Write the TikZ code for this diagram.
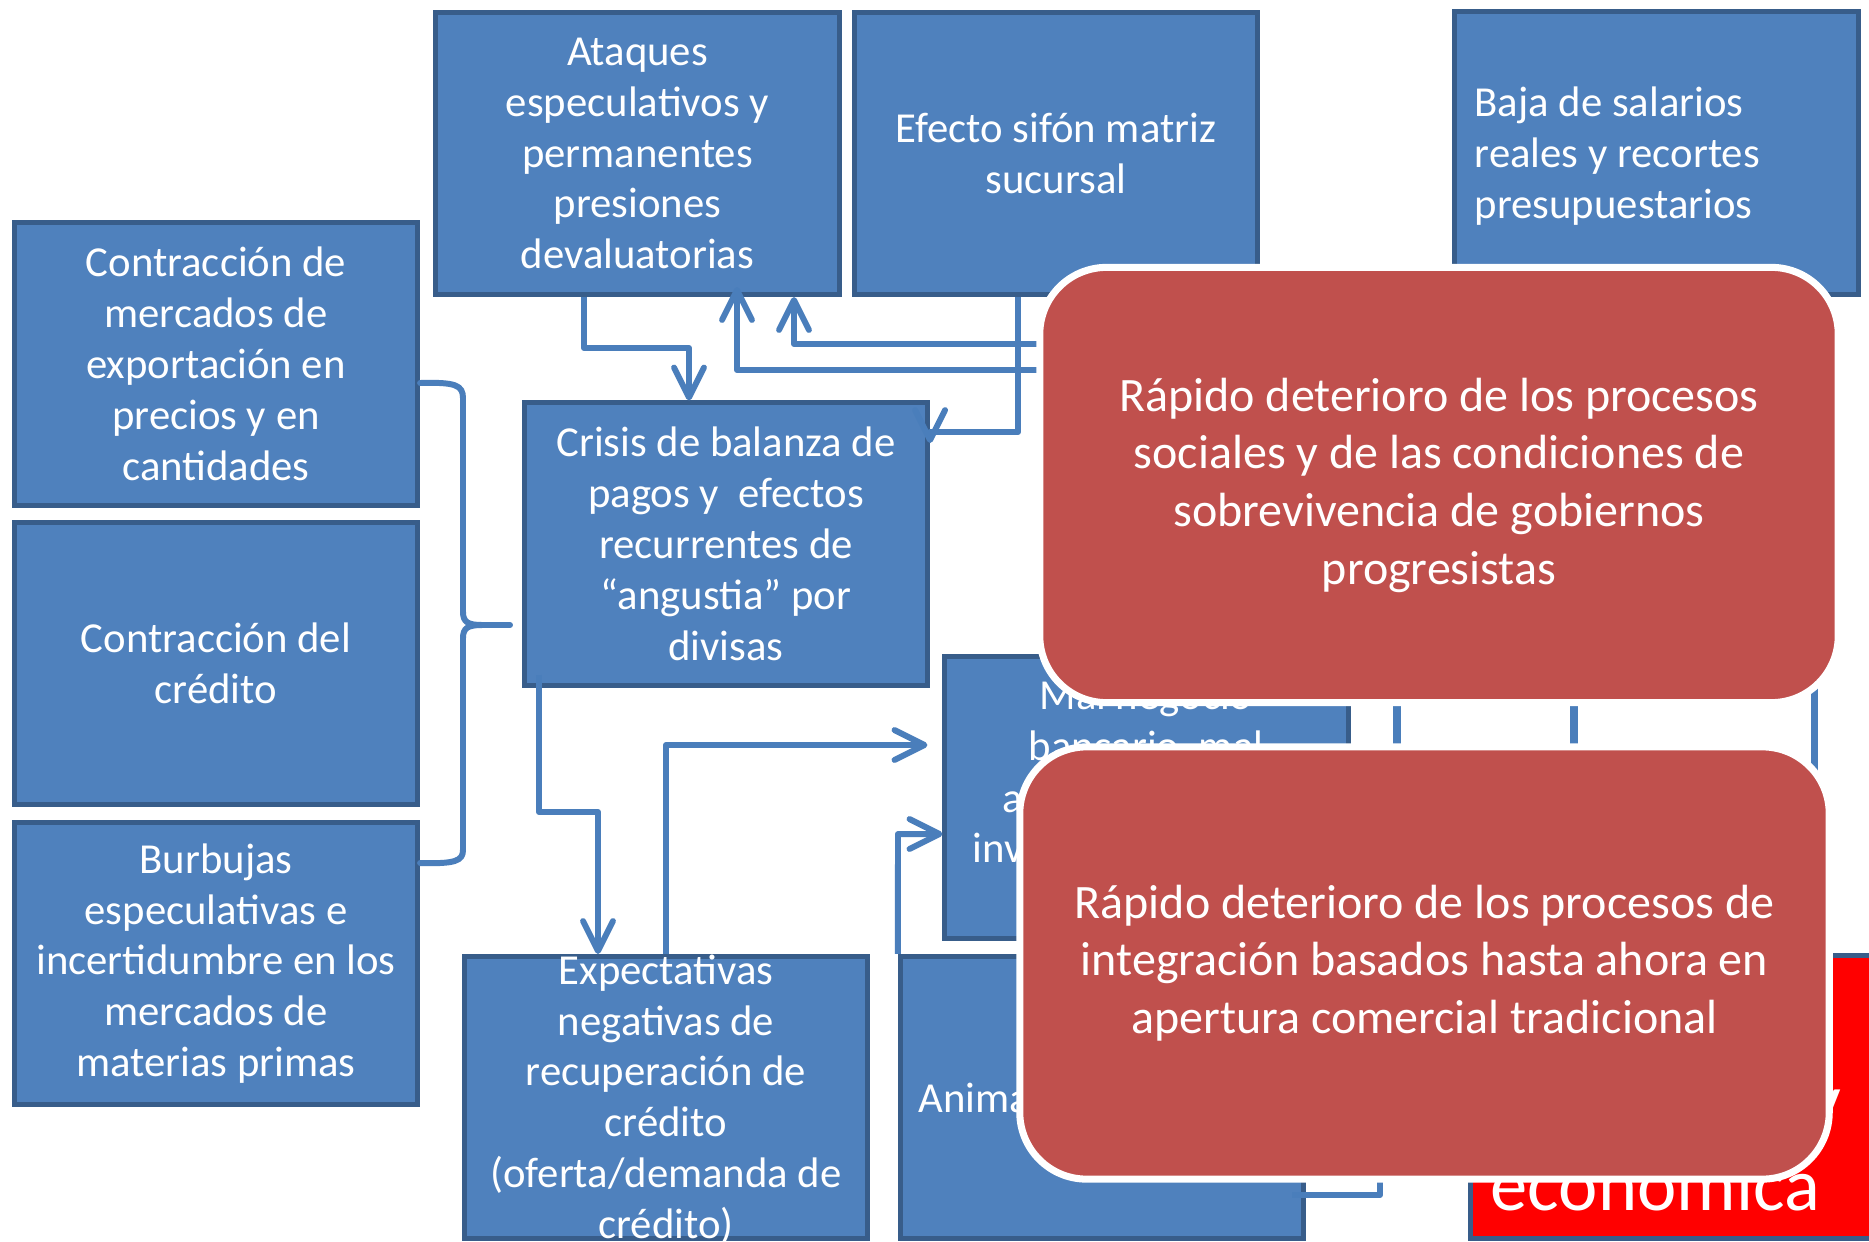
\documentclass[tikz,border=0pt]{standalone}
\usepackage{fontspec}
\setmainfont{Carlito}
\usetikzlibrary{arrows.meta,calc}
\definecolor{bfill}{HTML}{4F81BD}
\definecolor{bbord}{HTML}{385D8A}
\definecolor{cblue}{HTML}{4A7EBB}
\definecolor{rfill}{HTML}{C0504D}
\definecolor{brred}{HTML}{FF0000}
\newcommand\myblfont{\fontsize{12.15}{14.46}\selectfont}
\newcommand\myrdfont{\fontsize{13.65}{16.4}\selectfont}
\newcommand\myecfont{\fontsize{21.2}{25}\selectfont}
\begin{document}
\begin{tikzpicture}[x=0.01cm,y=-0.01cm,
  bbox/.style={draw=bbord, fill=bfill, line width=1.4pt, minimum width=4.03cm, minimum height=2.82cm, inner sep=0pt, text=white, align=center, font=\myblfont},
  btext/.style={text=white, align=center, font=\myblfont, inner sep=0pt},
  rbox/.style={draw=white, fill=rfill, line width=2pt, rounded corners=19pt, minimum width=7.98cm, minimum height=4.35cm, text=white, align=center, font=\myrdfont, inner sep=0pt},
  conn/.style={draw=cblue, line width=1.7pt, line join=round},
  arr/.style={-{Straight Barb[length=8.5pt,width=8.5pt,round]}},
]
\useasboundingbox (0,0) rectangle (1869,1242);
\clip (0,0) rectangle (1869,1242);
\fill[white] (0,0) rectangle (1869,1242);

% blue boxes
\node[bbox] (ataq) at (637.5,153.5) {Ataques\\especulativos y\\permanentes\\presiones\\devaluatorias};
\node[bbox] (sifon) at (1056,153.5) {Efecto sifón matriz\\sucursal};
\node[bbox] (baja) at (1656.5,153) {};
\node[btext, align=left, anchor=west] (bajat) at (1474,156) {Baja de salarios\\reales y recortes\\presupuestarios};
\node[bbox] (merc) at (216,364) {Contracción de\\mercados de\\exportación en\\precios y en\\cantidades};
\node[bbox] (cred) at (216,663.5) {Contracción del\\crédito};
\node[bbox] (burb) at (216,963.5) {Burbujas\\especulativas e\\incertidumbre en los\\mercados de\\materias primas};
\node[bbox] (crisis) at (726,544) {Crisis de balanza de\\pagos y\ \ efectos\\recurrentes de\\“angustia” por\\divisas};
\node[bbox] (expect) at (666,1097.5) {};
\node[btext] (expectt) at ($(expect.center)+(0,2)$) {Expectativas\\negativas de\\recuperación de\\crédito\\(oferta/demanda de\\crédito)};
\node[bbox] (malneg) at (1146.5,797.5) {};
\node[btext, anchor=base] (mn1) at (1146,709) {Mal negocio};
\node[btext, anchor=base] (mn2) at (1146,760) {bancario, mal};
\node[btext, anchor=base west] (mn3) at (1002,812) {a};
\node[btext, anchor=base west] (mn4) at (972,862) {inv};
\node[bbox] (animal) at (1102,1097.5) {};
\node[btext, anchor=base west] (an1) at (918,1112) {Animal};

% brace
\draw[conn, line cap=round] (merc.east |- 0,383) .. controls (455,382) and (463,385) .. (463,398) -- (463,612) .. controls (463,622) and (468,625) .. (482,625) -- (510,625);
\draw[conn, line cap=round] (482,625) .. controls (468,625) and (463,628) .. (463,638) -- (463,850) .. controls (463,861) and (455,864) .. (burb.east |- 0,863);

% connectors
\coordinate (cA) at (584,348);
\coordinate (cA2) at (689,348);
\draw[conn,arr] (ataq.south -| cA) -- (cA) -- (cA2) -- (crisis.north -| cA2);
\coordinate (cB) at (1100,370);
\coordinate (cB2) at (737,370);
\draw[conn,arr] (cB) -- (cB2) -- ($(ataq.south -| cB2)+(0,-10)$);
\coordinate (cC) at (1100,344);
\coordinate (cC2) at (794,344);
\draw[conn,arr] (cC) -- (cC2) -- (ataq.south -| cC2);
\coordinate (cD) at (1018,432);
\draw[conn,arr] (sifon.south -| cD) -- (cD) -- (crisis.east |- cD) -- ($(crisis.east |- cD)+(0,11)$);
\coordinate (cE) at (539,812);
\coordinate (cE2) at (598,812);
\draw[conn,arr] ($(crisis.south -| cE)+(0,-13)$) -- (cE) -- (cE2) -- (expect.north -| cE2);
\coordinate (cF) at (666,745);
\draw[conn,arr] (expect.north -| cF) -- (cF) -- ($(malneg.west |- cF)+(-15,0)$);
\coordinate (cG) at (898,834);
\draw[conn,arr] (animal.north west) -- (cG) -- (malneg.west |- cG);
\coordinate (cH) at (1380,1195);
\coordinate (cH2) at (1380,1100);
\draw[conn] ($(animal.east |- cH)+(-14,0)$) -- (cH) -- (cH2);
\coordinate (v1a) at (1397,650); \coordinate (v1b) at (1397,800);
\coordinate (v2a) at (1574,650); \coordinate (v2b) at (1574,800);
\coordinate (v3a) at (1814,640); \coordinate (v3b) at (1814,820);
\draw[conn, line width=2.1pt] (v1a) -- (v1b);
\draw[conn, line width=2.1pt] (v2a) -- (v2b);
\draw[conn, line width=2pt] (v3a) -- (v3b);

% bright red box
\node[bbox, fill=brred, minimum width=4.27cm] (econ) at (1684,1097) {};
\node[anchor=base east, text=white, font=\myecfont, inner sep=0pt] (econy) at (1842,1125) {y};
\node[anchor=base west, text=white, font=\myecfont, inner sep=0pt] (econt) at (1490,1210) {económica};

% red rounded boxes
\node[rbox] (rup) at (1439,485) {Rápido deterioro de los procesos\\sociales y de las condiciones de\\sobrevivencia de gobiernos\\progresistas};
\node[rbox, minimum width=8.09cm, minimum height=4.32cm] (rlow) at (1424.5,963) {Rápido deterioro de los procesos de\\integración basados hasta ahora en\\apertura comercial tradicional};
\end{tikzpicture}
\end{document}
